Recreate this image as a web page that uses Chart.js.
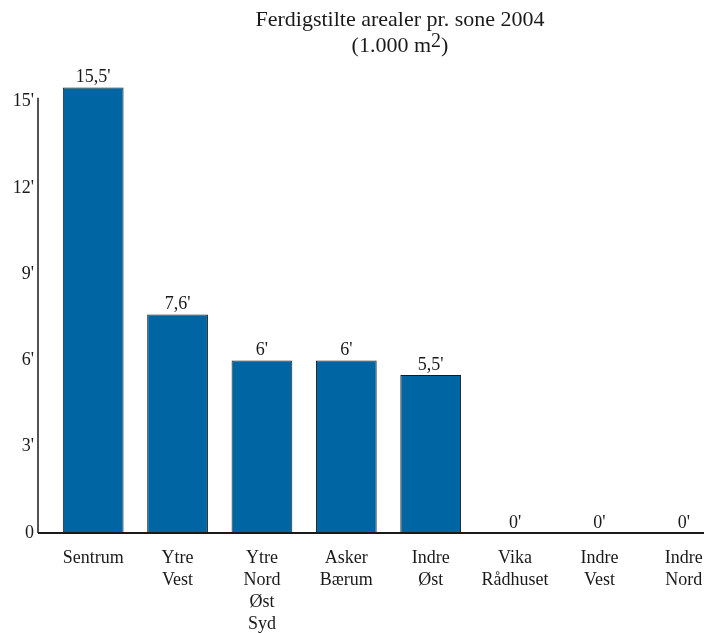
<!DOCTYPE html>
<html>
<head>
<meta charset="utf-8">
<script src="https://cdn.jsdelivr.net/npm/chart.js@4/dist/chart.umd.min.js"></script>
<style>
  html, body { margin: 0; padding: 0; background: #fff; overflow: hidden; }
  #wrap { width: 704px; height: 633px; overflow: hidden; }
</style>
</head>
<body>
<div id="wrap"><canvas id="barChart" width="740" height="633"></canvas></div>
<script>
// soner og ferdigstilte arealer (1.000 m2)
var soner  = [['Sentrum'], ['Ytre', 'Vest'], ['Ytre', 'Nord', 'Øst', 'Syd'], ['Asker', 'Bærum'],
              ['Indre', 'Øst'], ['Vika', 'Rådhuset'], ['Indre', 'Vest'], ['Indre', 'Nord']]
var arealer = [15.5, 7.6, 6, 6, 5.5, 0, 0, 0]
var yTicks  = [0, 3, 6, 9, 12, 15]

var serif = '"Liberation Serif", "Times New Roman", serif'
var ink   = '#1a1a1a'

function fmt(v) {
  return String(v).replace('.', ',') + "'"
}

// tittel, egne akselinjer og verdier over stolpene
var tegnPlugin = {
  id: 'tegn',
  afterDraw: function (chart) {
    var ctx = chart.ctx
    var area = chart.chartArea
    var y = chart.scales.y
    ctx.save()

    // tittel
    ctx.fillStyle = ink
    ctx.textAlign = 'center'
    ctx.textBaseline = 'middle'
    ctx.font = '22px ' + serif
    ctx.fillText('Ferdigstilte arealer pr. sone 2004', 400, 20)
    var a = '(1.000 m', b = '2', c = ')'
    var wa = ctx.measureText(a).width, wc = ctx.measureText(c).width
    ctx.font = '20px ' + serif
    var wb = ctx.measureText(b).width
    var x0 = 400 - (wa + wb + wc) / 2
    ctx.textAlign = 'left'
    ctx.font = '22px ' + serif
    ctx.fillText(a, x0, 46)
    ctx.font = '20px ' + serif
    ctx.fillText(b, x0 + wa, 42)
    ctx.font = '22px ' + serif
    ctx.fillText(c, x0 + wa + wb, 46)

    // akser
    var ax = area.left - 13
    ctx.strokeStyle = ink
    ctx.lineWidth = 1.5
    ctx.beginPath()
    ctx.moveTo(ax, y.getPixelForValue(15) - 4)
    ctx.lineTo(ax, area.bottom)
    ctx.stroke()
    ctx.lineWidth = 2
    ctx.beginPath()
    ctx.moveTo(ax, area.bottom)
    ctx.lineTo(chart.width, area.bottom)
    ctx.stroke()

    // verdier
    ctx.font = '18px ' + serif
    ctx.textAlign = 'center'
    ctx.textBaseline = 'bottom'
    var meta = chart.getDatasetMeta(0)
    meta.data.forEach(function (bar, i) {
      ctx.fillText(fmt(arealer[i]), bar.x, bar.y - 1)
    })
    ctx.restore()
  }
}

var ctx = document.getElementById('barChart').getContext('2d')
new Chart(ctx, {
  type: 'bar',
  data: {
    labels: soner,
    datasets: [{
      data: arealer,
      backgroundColor: '#0066a3',
      borderColor: ink,
      borderWidth: 1,
      borderSkipped: false,
      barPercentage: 0.72,
      categoryPercentage: 1
    }]
  },
  options: {
    responsive: false,
    animation: false,
    layout: { padding: { top: 73, right: 14, left: 0, bottom: 0 } },
    plugins: {
      legend: { display: false },
      title: { display: false },
      tooltip: { enabled: false }
    },
    scales: {
      x: {
        grid: { display: false, drawTicks: false },
        border: { display: false },
        ticks: {
          color: ink,
          padding: 14,
          maxRotation: 0,
          autoSkip: false,
          font: { family: serif, size: 18, lineHeight: 1.22 }
        },
        afterFit: function (scale) { scale.height = 100 }
      },
      y: {
        min: 0,
        max: 16,
        grid: { display: false, drawTicks: false },
        border: { display: false },
        afterBuildTicks: function (scale) {
          scale.ticks = yTicks.map(function (v) { return { value: v } })
        },
        afterFit: function (scale) { scale.width = 51 },
        ticks: {
          color: ink,
          padding: 17,
          font: { family: serif, size: 18 },
          callback: function (v) { return v === 0 ? '0' : v + "'" }
        }
      }
    }
  },
  plugins: [tegnPlugin]
})
</script>
</body>
</html>
